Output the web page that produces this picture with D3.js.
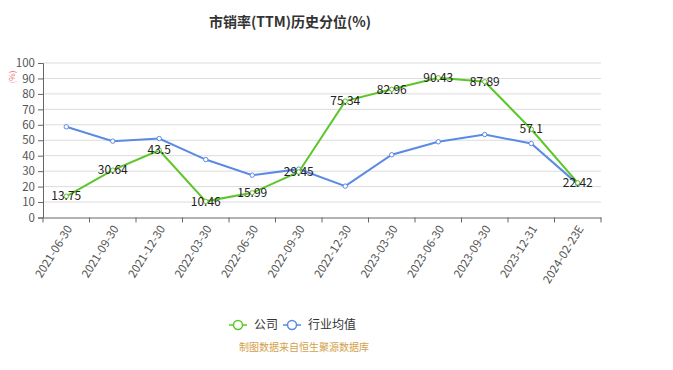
<!DOCTYPE html>
<meta charset="utf-8">
<style>
body { margin: 0; background: #fff; font-family: "Noto Sans CJK SC", "Noto Sans", sans-serif; }
</style>
<body>
<script src="https://cdn.jsdelivr.net/npm/d3@7"></script>
<script>
var dates = ["2021-06-30","2021-09-30","2021-12-30","2022-03-30","2022-06-30","2022-09-30",
             "2022-12-30","2023-03-30","2023-06-30","2023-09-30","2023-12-31","2024-02-23E"];
var company = [13.75, 30.64, 43.5, 10.46, 15.99, 29.45, 75.34, 82.96, 90.43, 87.89, 57.1, 22.42];
var industry = [58.7, 49.4, 51.1, 37.5, 27.4, 31.3, 20.3, 40.6, 49.0, 53.7, 47.9, 21.6];
var yTicks = d3.range(0, 101, 10);

var width = 673, height = 370,
    plotL = 43, plotR = 601, plotT = 63, plotB = 217.5;

var green = "#5cc62a", blue = "#5b8ae6";

var svg = d3.select("body").append("svg")
    .attr("width", width)
    .attr("height", height);

var x = d3.scaleBand().domain(dates).range([plotL, plotR]);
var y = d3.scaleLinear().domain([0, 100]).range([plotB, plotT]);

// title
svg.append("text")
    .attr("x", 290).attr("y", 27)
    .attr("text-anchor", "middle")
    .attr("font-size", 14).attr("font-weight", "bold").attr("fill", "#333")
    .text("市销率(TTM)历史分位(%)");

// grid
svg.append("g").selectAll("line")
    .data(yTicks.slice(1))
  .enter().append("line")
    .attr("x1", plotL).attr("x2", plotR)
    .attr("y1", function(d) { return y(d); })
    .attr("y2", function(d) { return y(d); })
    .attr("stroke", "#dcdcdc");

// y axis
var yAxis = svg.append("g")
    .attr("transform", "translate(" + plotL + ",0)")
    .call(d3.axisLeft(y).tickValues(yTicks).tickSize(5).tickPadding(3));
yAxis.select(".domain").attr("stroke", "#666");
yAxis.selectAll(".tick line").attr("stroke", "#666");
yAxis.selectAll(".tick text").attr("font-size", 11.5).attr("fill", "#555")
    .attr("font-family", "'Noto Sans CJK SC', sans-serif");

svg.append("text")
    .attr("transform", "translate(15,77)rotate(-90)")
    .attr("text-anchor", "middle")
    .attr("font-size", 8).attr("fill", "#f07070")
    .text("(%)");

// x axis
var xAxis = svg.append("g")
    .attr("transform", "translate(0," + plotB + ")")
    .call(d3.axisBottom(x).tickSize(0).tickPadding(6));
xAxis.select(".domain").attr("stroke", "#666");
xAxis.selectAll(".tick text")
    .attr("font-size", 11.5).attr("fill", "#555")
    .attr("font-family", "'Noto Sans CJK SC', sans-serif")
    .attr("text-anchor", "end")
    .attr("x", 0).attr("y", 0).attr("dy", "0.35em")
    .attr("transform", "translate(3,9)rotate(-58)");
xAxis.selectAll(".bound")
    .data(d3.range(dates.length + 1))
  .enter().append("line")
    .attr("x1", function(i) { return plotL + i * x.step(); })
    .attr("x2", function(i) { return plotL + i * x.step(); })
    .attr("y1", 0).attr("y2", 5)
    .attr("stroke", "#666");

var cx = function(d, i) { return x(dates[i]) + x.bandwidth() / 2; };

function series(values, color) {
  var line = d3.line().x(cx).y(function(d) { return y(d); });
  svg.append("path")
      .datum(values)
      .attr("d", line)
      .attr("fill", "none")
      .attr("stroke", color)
      .attr("stroke-width", 2);
  svg.append("g").selectAll("circle")
      .data(values)
    .enter().append("circle")
      .attr("cx", cx)
      .attr("cy", function(d) { return y(d); })
      .attr("r", 2.2)
      .attr("fill", "#fff")
      .attr("stroke", color)
      .attr("stroke-width", 1);
}

series(industry, blue);
series(company, green);

// labels for company
svg.append("g").selectAll("text")
    .data(company)
  .enter().append("text")
    .attr("x", cx)
    .attr("y", function(d) { return y(d); })
    .attr("dy", "0.35em")
    .attr("text-anchor", "middle")
    .attr("font-size", 12)
    .attr("fill", "#222")
    .text(function(d) { return d; });

// legend
var legend = [{name: "公司", color: green, x: 229}, {name: "行业均值", color: blue, x: 283}];
var lg = svg.append("g").selectAll("g")
    .data(legend)
  .enter().append("g")
    .attr("transform", function(d) { return "translate(" + d.x + ",325)"; });
lg.append("line")
    .attr("x1", 0).attr("x2", 18)
    .attr("stroke", function(d) { return d.color; })
    .attr("stroke-width", 1.5);
lg.append("circle")
    .attr("cx", 9).attr("r", 4.5)
    .attr("fill", "#fff")
    .attr("stroke", function(d) { return d.color; })
    .attr("stroke-width", 1.5);
lg.append("text")
    .attr("x", 25).attr("dy", "0.35em")
    .attr("font-size", 12).attr("fill", "#333")
    .text(function(d) { return d.name; });

svg.append("text")
    .attr("x", 239).attr("y", 351)
    .attr("font-size", 10).attr("fill", "#d4a04a")
    .text("制图数据来自恒生聚源数据库");
</script>
</body>
